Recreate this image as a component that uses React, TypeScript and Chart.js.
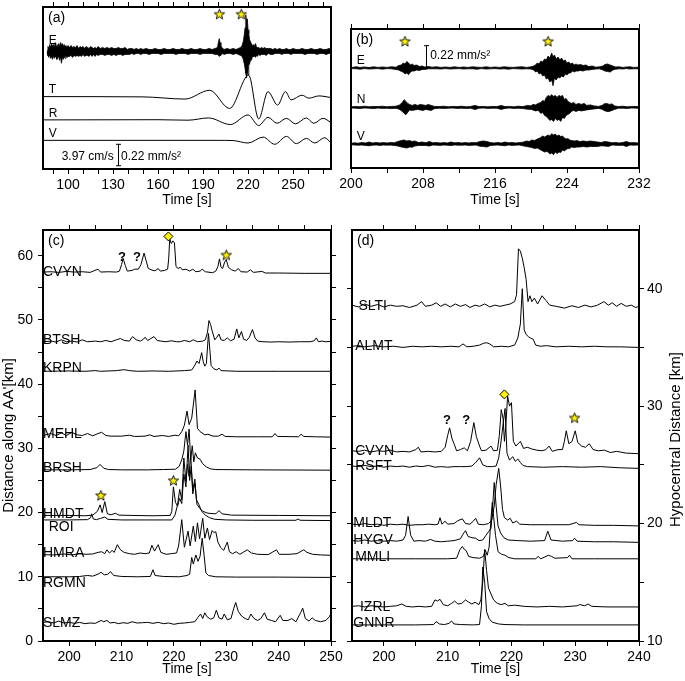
import React, { useEffect, useRef } from "react";
import { Chart, registerables } from "chart.js";

Chart.register(...registerables);

const FONT = "'Liberation Sans', Arial, Helvetica, sans-serif";

type Pt = [number, number];
type Env = [number, number, number];

// ---------------- panel (a) ----------------
const A_X_RANGE: Pt = [83.3, 275.3];
const A_Y_RANGE: Pt = [0, 164];
const A_TICKS = [90, 100, 110, 120, 130, 140, 150, 160, 170, 180, 190, 200, 210, 220, 230, 240, 250, 260, 270];
const A_TICK_LABELS = [100, 130, 160, 190, 220, 250];
const A_E_BASE = 119;
// [time, upper amplitude, lower amplitude]
const A_E_ENV: Env[] = [
  [86, 1, 1], [86.6, 5, 4], [87.2, 3, 6], [87.8, 7, 3], [88.4, 4, 7], [89, 8, 5], [89.6, 5, 8], [90.2, 7, 4],
  [90.8, 4, 7], [91.4, 9, 5], [92, 5, 6], [92.6, 7, 8], [93.2, 4, 5], [93.8, 8, 6], [94.4, 5, 9], [95, 9, 5],
  [95.6, 6, 12], [96.2, 8, 6], [96.8, 5, 8], [97.4, 7, 5], [98, 5, 7], [98.6, 6, 4], [99.2, 4, 6], [100, 6, 5],
  [101, 4, 5], [102, 6, 4], [103, 4, 6], [104, 5, 4], [105, 4, 5], [106, 6, 4], [107, 3, 5], [108, 5, 4],
  [109, 4, 5], [110, 5, 3], [111, 3, 5], [112, 5, 4], [113, 4, 4], [114, 3, 5], [115, 5, 3], [116, 4, 5],
  [117, 3, 3], [118, 4, 5], [119, 3, 3], [120, 5, 4], [121.5, 3, 3], [123, 4, 3], [124.5, 3, 4], [126, 4, 3],
  [127.5, 3, 3], [129, 4, 4], [130.5, 3, 3], [132, 3, 4], [133.5, 4, 3], [135, 3, 3], [136.5, 3, 4], [138, 4, 3],
  [139.5, 2, 3], [141, 3, 3], [142.5, 3, 2], [144, 2, 3], [145.5, 3, 2], [147, 2, 2], [148.5, 3, 3], [150, 2, 2],
  [152, 3, 2], [154, 2, 3], [156, 2, 2], [158, 3, 2], [160, 2, 2], [162, 2, 3], [164, 3, 2], [166, 2, 2],
  [168, 2, 2], [170, 3, 2], [172, 2, 3], [174, 2, 2], [176, 3, 2], [178, 2, 2], [180, 2, 3], [182, 3, 2],
  [184, 2, 2], [186, 2, 2], [188, 3, 3], [190, 2, 2], [192, 2, 2], [194, 3, 2], [196, 2, 2], [198, 3, 3],
  [199.6, 4, 3], [200.2, 9, 4], [200.8, 13, 5], [201.3, 9, 4], [201.9, 6, 4], [202.5, 4, 3], [203.2, 3, 2],
  [204, 2, 3], [206, 3, 2], [208, 2, 2], [210, 3, 3], [212, 2, 2], [213.5, 3, 3], [215, 4, 4], [216, 6, 5],
  [216.8, 10, 8], [217.4, 16, 12], [218, 24, 17], [218.5, 37, 22], [219, 30, 27], [219.5, 33, 20], [220, 22, 24],
  [220.5, 18, 14], [221, 12, 13], [221.6, 10, 9], [222.2, 8, 9], [222.8, 6, 6], [223.4, 7, 5], [224, 5, 5],
  [224.6, 5, 4], [225, 8, 6], [225.5, 5, 4], [226.2, 4, 5], [227, 4, 3], [228, 3, 4], [229, 4, 3], [230, 3, 3],
  [231, 4, 3], [232, 3, 4], [233.5, 3, 2], [235, 3, 3], [236.5, 2, 3], [238, 3, 2], [239.5, 2, 2], [241, 3, 2],
  [242.5, 2, 3], [244, 2, 2], [245.5, 3, 2], [247, 2, 2], [248.5, 2, 3], [250, 3, 2], [252, 2, 2], [254, 2, 2],
  [256, 3, 2], [258, 2, 3], [260, 2, 2], [262, 3, 2], [264, 2, 2], [266, 2, 3], [268, 3, 2], [270, 2, 2],
  [272, 2, 3], [274, 3, 2], [275.3, 2, 2],
];
const A_T: Pt[] = [
  [83.3, 73.3], [150, 73.0], [178, 70.8], [194.4, 79.7], [207.7, 61.3], [220.4, 95], [227.1, 50.7],
  [233.3, 78.3], [239.7, 64.7], [244.9, 78.3], [248.7, 70], [256, 74.7], [260.5, 71.7], [267.3, 74], [275.3, 72.3],
];
const A_R: Pt[] = [
  [83.3, 49.7], [160, 49.9], [180, 49.4], [193.7, 51.7], [208.2, 45], [220, 54.7], [227.1, 44], [233.3, 52.3],
  [239.3, 46.3], [245.6, 51.3], [251.6, 45.7], [258.9, 51.7], [263.8, 46.3], [270, 51.3], [275.3, 47],
];
const A_V: Pt[] = [
  [83.3, 29], [200, 29], [210, 28.8], [220, 26.3], [230, 32.3], [237.8, 25], [245.6, 33], [252.2, 25.7],
  [258.9, 31], [264.4, 26.3], [271.1, 31.7], [275.3, 26.3],
];
const A_STARS: Pt[] = [[200.9, 156.7], [215.5, 156.7]];
const A_NAMES = ["E", "T", "R", "V"];
const A_NAME_Y = [130.7, 81.7, 56.7, 36.3];
const A_NAME_X = 87.1;
const A_BAR_T = 133.1;
const A_BAR_Y: Pt = [3.3, 25];
const A_BAR_TEXT = ["3.97 cm/s", "0.22 mm/s²"];

// ---------------- panel (b) ----------------
const B_X_RANGE: Pt = [200, 232];
const B_Y_RANGE: Pt = [0, 139];
const B_TICKS = [200, 204, 208, 212, 216, 220, 224, 228, 232];
const B_TICK_LABELS = [200, 208, 216, 224, 232];
const B_BASES = [100, 60.6, 24];
const B_E_ENV: Env[] = [
  [200.1, 0.6, 0.6], [200.6, 1.2, 0.8], [201.0, 0.6, 1.2], [201.5, 1.0, 0.6], [202.0, 0.5, 1.0], [202.5, 1.2, 0.8],
  [203.0, 0.6, 0.6], [203.5, 1.0, 1.2], [204.0, 0.6, 0.6], [204.5, 1.2, 0.8], [205.0, 0.8, 1.5], [205.3, 2.5, 2],
  [205.6, 3, 3.5], [205.8, 5, 4], [206.0, 4, 6], [206.2, 6.6, 5], [206.4, 5, 6.7], [206.6, 3, 4], [206.8, 4, 3],
  [207.0, 2.5, 3], [207.3, 3, 2], [207.6, 1.5, 2.5], [207.9, 2, 1.5], [208.2, 1, 1.5], [208.6, 1.5, 0.8], [209.0, 0.8, 0.8],
  [209.5, 1.2, 0.8], [210.0, 0.6, 1.0], [210.5, 1.0, 0.6], [211.0, 0.6, 1.0], [211.5, 1.2, 0.8], [212.0, 0.6, 0.6],
  [212.5, 1.0, 1.0], [213.0, 0.6, 0.8], [213.5, 1.2, 0.8], [214.0, 0.8, 1.2], [214.5, 0.6, 0.6], [215.0, 1.2, 1.0],
  [215.5, 0.6, 0.8], [216.0, 1.0, 0.6], [216.5, 0.6, 1.0], [217.0, 1.2, 0.8], [217.5, 0.8, 1.2], [218.0, 0.6, 0.6],
  [218.5, 1.0, 0.8], [219.0, 1.2, 1.0], [219.5, 0.6, 0.8], [220.0, 1.2, 1.0], [220.3, 2, 2], [220.5, 3, 4],
  [220.7, 5, 3], [220.9, 4, 6], [221.1, 7, 5], [221.3, 6, 8], [221.5, 9, 7], [221.7, 8, 11], [221.9, 12, 10],
  [222.1, 10, 14], [222.3, 15, 12], [222.45, 11, 17.7], [222.6, 13, 10], [222.8, 9, 12], [223.0, 11, 9],
  [223.2, 8, 10], [223.4, 10, 8], [223.6, 7, 9], [223.8, 8, 6], [224.0, 5, 7], [224.2, 6, 5], [224.4, 4, 5],
  [224.6, 5, 3], [224.8, 3, 4], [225.0, 4, 3], [225.2, 3, 3], [225.5, 3.5, 2.5], [225.8, 2.5, 3], [226.1, 3, 2],
  [226.4, 1.5, 2], [226.8, 2, 1.5], [227.2, 0.8, 1.0], [227.6, 1.2, 0.8], [228.0, 2, 2], [228.2, 3.5, 3],
  [228.5, 4, 3.5], [228.8, 3, 4], [229.1, 2, 2], [229.4, 1.0, 1.2], [229.8, 1.2, 0.8], [230.2, 0.6, 1.0],
  [230.6, 1.0, 0.6], [231.0, 1.2, 1.0], [231.4, 0.6, 0.8], [231.9, 0.8, 0.8],
];
const B_N_ENV: Env[] = [
  [200.1, 0.6, 0.6], [200.5, 1.0, 0.8], [201.0, 0.6, 1.0], [201.5, 1.2, 0.6], [202.0, 0.6, 0.8], [202.5, 1.0, 1.2],
  [203.0, 0.8, 0.6], [203.5, 1.2, 1.0], [204.0, 0.6, 0.8], [204.5, 1.0, 1.2], [205.0, 1.2, 0.8], [205.4, 2.5, 2],
  [205.7, 5, 4], [205.9, 7.7, 6], [206.1, 6, 7.3], [206.3, 4, 5], [206.5, 3, 2.5], [206.8, 2, 3], [207.1, 3, 2.5],
  [207.4, 2, 2], [207.7, 3, 2.5], [208.0, 2.5, 3], [208.3, 2, 2], [208.6, 3, 2.5], [208.9, 2, 3], [209.3, 1.0, 1.2],
  [209.8, 0.8, 0.8], [210.3, 1.2, 1.0], [210.8, 0.6, 0.8], [211.3, 1.0, 0.6], [211.8, 0.8, 1.0], [212.3, 1.2, 0.8],
  [212.8, 0.6, 1.0], [213.3, 1.0, 0.8], [213.8, 2, 2.2], [214.2, 0.8, 0.8], [214.7, 1.0, 0.6], [215.2, 0.6, 1.0],
  [215.7, 1.0, 0.8], [216.2, 0.8, 0.8], [216.7, 2, 2], [217.1, 0.8, 1.0], [217.6, 1.0, 0.6], [218.1, 0.6, 1.0],
  [218.6, 1.2, 0.8], [219.1, 0.8, 1.2], [219.6, 2, 1.8], [220.0, 1.5, 2], [220.2, 3, 2.5], [220.5, 2.5, 3.5],
  [220.8, 4, 3], [221.1, 5, 6], [221.3, 7, 5], [221.5, 6, 8], [221.7, 10, 9], [221.9, 12, 11], [222.1, 11, 13],
  [222.3, 12.7, 12], [222.5, 11, 14], [222.7, 12, 11], [222.9, 10, 13], [223.1, 12, 12], [223.3, 11, 14],
  [223.5, 12, 10], [223.7, 8, 11], [223.9, 9, 8], [224.1, 6, 7], [224.3, 5, 6], [224.5, 4, 4], [224.7, 5, 3],
  [225.0, 3, 4], [225.3, 4, 3], [225.6, 3, 3.5], [225.9, 4, 3], [226.2, 2, 2.5], [226.6, 2.5, 2], [227.0, 1.5, 1.5],
  [227.5, 1.0, 1.0], [227.9, 2, 1.8], [228.1, 3.5, 3], [228.4, 4, 4], [228.7, 3, 4], [229.0, 3.5, 3],
  [229.3, 1.5, 2], [229.7, 0.8, 0.8], [230.2, 1.2, 0.8], [230.7, 0.6, 1.0], [231.2, 1.0, 0.6], [231.9, 0.8, 0.8],
];
const B_V_ENV: Env[] = [
  [200.1, 0.8, 0.8], [200.4, 1.2, 1.0], [200.8, 0.8, 1.2], [201.2, 1.5, 1.0], [201.6, 1.0, 1.4], [202.0, 2, 1.8],
  [202.4, 1.0, 1.2], [202.8, 1.5, 1.0], [203.2, 1.0, 1.4], [203.6, 1.4, 1.0], [204.0, 1.0, 1.2], [204.4, 1.5, 1.1],
  [204.8, 1.2, 1.5], [205.2, 2.5, 2], [205.6, 3.5, 3], [205.9, 4, 3.5], [206.2, 3, 4], [206.5, 3.5, 3],
  [206.8, 2.5, 3.2], [207.1, 3, 2], [207.5, 1.4, 1.5], [207.9, 2, 1.5], [208.3, 1.2, 1.5], [208.7, 2.5, 2],
  [209.1, 1.2, 1.0], [209.5, 1.5, 1.2], [209.9, 1.0, 1.4], [210.3, 1.4, 1.0], [210.7, 1.0, 1.2], [211.1, 2, 1.6],
  [211.5, 1.2, 1.0], [211.9, 1.5, 1.2], [212.3, 1.0, 1.2], [212.7, 1.4, 1.0], [213.1, 1.0, 1.4], [213.5, 1.5, 1.2],
  [213.9, 1.2, 1.0], [214.3, 2.5, 2.2], [214.7, 3, 2.5], [215.1, 2.5, 3], [215.5, 1.4, 1.5], [215.9, 1.0, 1.2],
  [216.3, 1.5, 1.0], [216.7, 1.0, 1.4], [217.1, 2, 1.8], [217.5, 1.2, 1.0], [217.9, 1.5, 1.4], [218.3, 1.0, 1.2],
  [218.7, 1.4, 1.0], [219.1, 1.8, 1.8], [219.5, 3, 2.5], [219.8, 2.5, 3], [220.1, 4, 3.5], [220.4, 3.5, 4.5],
  [220.7, 5, 4], [221.0, 6, 5.5], [221.3, 8, 7], [221.5, 7, 8], [221.7, 8, 7.5], [221.9, 9, 8], [222.1, 8, 10],
  [222.3, 10.3, 9], [222.5, 9, 10.7], [222.7, 10, 8], [222.9, 8, 9.5], [223.1, 9, 8], [223.3, 7.5, 8.5],
  [223.5, 8, 6], [223.7, 6, 7], [223.9, 5, 5.5], [224.1, 5.5, 4.5], [224.3, 4, 4.5], [224.5, 3.5, 3],
  [224.8, 3, 3.5], [225.1, 3.5, 3], [225.4, 2.5, 3], [225.8, 3, 2.5], [226.2, 2.5, 3], [226.6, 3, 2.5],
  [227.0, 2.5, 2.5], [227.4, 2, 2.5], [227.8, 1.5, 1.8], [228.2, 2.5, 2], [228.6, 2, 2.5], [229.0, 1.2, 1.0],
  [229.4, 1.5, 1.2], [229.8, 1.0, 1.4], [230.2, 1.5, 1.2], [230.6, 2.5, 2.5], [231.0, 1.2, 1.0], [231.4, 1.4, 1.2],
  [231.9, 1.0, 1.0],
];
const B_STARS: Pt[] = [[206.0, 126.6], [221.9, 126.6]];
const B_NAMES = ["E", "N", "V"];
const B_NAME_Y = [108.3, 69, 32.3];
const B_NAME_X = 200.63;
const B_BAR_T = 208.3;
const B_BAR_Y: Pt = [100, 122.3];
const B_BAR_TEXT = "0.22 mm/s²";
const B_BAR_TEXT_POS: Pt = [208.8, 113.3];

// ---------------- panel (c) ----------------
const C_X_RANGE: Pt = [195, 250];
const C_Y_RANGE: Pt = [0, 64];
const C_X_TICKS = [200, 205, 210, 215, 220, 225, 230, 235, 240, 245, 250];
const C_X_LABELS = [200, 210, 220, 230, 240, 250];
const C_Y_TICKS = [0, 5, 10, 15, 20, 25, 30, 35, 40, 45, 50, 55, 60];
const C_Y_LABELS = [0, 10, 20, 30, 40, 50, 60];
const C_STATIONS = ["CVYN", "BTSH", "KRPN", "MEHL", "BRSH", "HMDT", "ROI", "HMRA", "RGMN", "SLMZ"];
const C_LABEL_T = [195, 195, 195, 195, 195, 195, 196.1, 195, 195, 195];
const C_LABEL_Y = [57.55, 47.0, 42.65, 32.35, 27.15, 19.9, 17.9, 13.9, 9.25, 3.0];
const C_CVYN: Pt[] = [
  [195, 57.45], [196.5, 57.5], [198, 57.4], [199.5, 57.55], [201, 57.45], [202.5, 57.5], [204, 57.4], [205.5, 57.9],
  [206, 57.45], [207.5, 57.5], [209, 57.45], [209.6, 57.6], [210, 58.6], [210.3, 59.6], [210.7, 58.5], [211.1, 57.6],
  [212, 57.7], [212.5, 57.9], [213.2, 57.9], [213.7, 58.6], [214.3, 60.4], [214.7, 59.2], [215.1, 58.0], [216, 57.7],
  [216.4, 57.65], [217, 58.0], [217.4, 57.6], [218.2, 57.7], [218.8, 57.9], [219.0, 59.5], [219.2, 62.6],
  [219.5, 61.9], [219.8, 62.3], [220.1, 62.0], [220.4, 58.3], [220.8, 58.0], [221.2, 58.2], [221.6, 57.8],
  [222.3, 57.9], [223.0, 57.6], [223.6, 57.9], [224.2, 57.5], [225.0, 57.6], [225.4, 57.9], [226.0, 57.5],
  [227.4, 57.35], [228.0, 57.6], [228.4, 58.3], [228.7, 59.5], [229.0, 58.2], [229.3, 58.0], [229.7, 59.0],
  [230.0, 59.4], [230.4, 58.2], [231.0, 57.8], [231.7, 57.6], [232.3, 58.0], [232.8, 57.5], [234.0, 57.45],
  [234.6, 57.8], [235.2, 57.4], [236.8, 57.55], [237.5, 57.3], [240, 57.3], [245, 57.25], [250, 57.25],
];
const C_BTSH: Pt[] = [
  [195, 46.6], [196.5, 46.7], [197.5, 46.55], [198.5, 46.9], [199.5, 46.6], [200.5, 46.7], [201.5, 46.55],
  [202.5, 46.9], [203.5, 46.6], [205, 46.7], [206, 46.6], [207, 46.8], [208, 46.6], [209, 46.9], [209.8, 47.1],
  [210.5, 46.8], [211.5, 46.7], [212.1, 47.4], [212.8, 46.9], [213.6, 46.7], [214.2, 47.0], [214.5, 47.3],
  [215.0, 46.8], [215.6, 47.1], [216.2, 47.4], [216.8, 46.8], [217.5, 46.7], [218.5, 46.6], [219.5, 46.75],
  [220.5, 46.6], [221.2, 46.6], [222.0, 46.8], [223.0, 46.6], [223.7, 46.9], [224.5, 46.6], [225.5, 46.7],
  [226.0, 46.9], [226.4, 48.0], [226.7, 49.9], [227.0, 49.3], [227.3, 48.3], [227.8, 46.9], [228.2, 47.3],
  [228.6, 47.8], [229.0, 46.9], [229.6, 46.8], [230.2, 47.2], [230.8, 46.75], [231.5, 47.0], [232.0, 48.6],
  [232.4, 47.2], [232.9, 48.2], [233.3, 47.0], [233.9, 46.8], [234.4, 47.3], [235.0, 48.5], [235.5, 47.2],
  [236.0, 46.7], [237, 46.6], [238.5, 46.55], [240, 46.6], [242, 46.55], [244, 46.6], [246, 46.6], [246.8, 46.75],
  [247.2, 47.2], [247.6, 46.6], [248.3, 46.7], [249, 46.6], [250, 46.65],
];
const C_KRPN: Pt[] = [
  [195, 42.0], [200, 42.05], [203, 42.0], [205, 42.1], [206, 42.0], [209, 42.1], [210.5, 42.25], [211.5, 42.1],
  [213, 42.0], [216, 42.05], [219, 42.0], [222, 42.1], [223.4, 42.2], [223.9, 42.8], [224.4, 43.6], [224.8, 43.2],
  [225.3, 44.9], [225.6, 43.5], [225.9, 42.8], [226.2, 43.2], [226.6, 47.9], [226.9, 45.0], [227.1, 42.9],
  [227.6, 42.4], [228.2, 42.2], [228.6, 42.5], [229, 42.1], [232, 42.0], [240, 42.0], [250, 42.0],
];
const C_MEHL: Pt[] = [
  [195, 32.0], [196.5, 32.3], [197.5, 32.0], [198.5, 32.4], [199.5, 32.0], [200.5, 32.5], [201.5, 32.1],
  [202.5, 32.0], [203.5, 32.3], [204.5, 31.95], [205.5, 32.3], [206.2, 32.5], [207, 32.0], [208, 31.9],
  [210, 31.9], [211.5, 32.05], [212.5, 31.85], [214.5, 31.9], [215.4, 32.1], [216.2, 31.85], [217.8, 32.0],
  [219, 31.85], [220.2, 32.05], [220.9, 31.95], [221.5, 32.6], [222.0, 33.6], [222.5, 35.8], [222.9, 33.7],
  [223.4, 34.7], [224.05, 39.1], [224.5, 33.1], [225.0, 32.6], [225.9, 32.1], [226.5, 32.2], [227.5, 31.9],
  [228.5, 31.9], [229.2, 32.2], [229.8, 31.85], [232, 31.8], [236, 31.8], [238.8, 31.8], [239.3, 32.3],
  [239.8, 31.85], [243.8, 31.8], [244.3, 32.2], [244.8, 31.85], [247, 31.8], [250, 31.75],
];
const C_BRSH: Pt[] = [
  [195, 26.65], [200, 26.65], [204, 26.7], [205.3, 27.0], [205.9, 27.5], [206.6, 26.9], [207.5, 26.7], [210, 26.65],
  [215, 26.65], [218, 26.7], [220.3, 26.75], [221.0, 27.2], [221.5, 28.2], [221.9, 29.6], [222.3, 32.6],
  [222.6, 30.5], [222.9, 33.0], [223.2, 28.2], [223.5, 30.4], [223.8, 27.9], [224.1, 29.3], [224.5, 28.5],
  [225.0, 28.3], [225.5, 27.6], [226.2, 27.1], [227.0, 26.8], [228, 26.7], [235, 26.65], [250, 26.6],
];
const C_HMDT: Pt[] = [
  [195, 19.55], [200, 19.55], [203, 19.5], [204.5, 19.6], [205.4, 20.2], [205.9, 21.2], [206.3, 20.0],
  [206.8, 21.7], [207.3, 19.8], [208, 19.65], [208.8, 19.9], [209.5, 19.6], [212, 19.55], [216, 19.5],
  [219.3, 19.55], [219.6, 20.2], [219.9, 24.0], [220.3, 21.6], [220.7, 21.0], [221.1, 22.2], [221.5, 21.4],
  [221.9, 26.0], [222.3, 24.0], [222.7, 30.5], [223.0, 25.0], [223.3, 27.2], [223.6, 22.9], [224.0, 24.6],
  [224.4, 21.3], [224.9, 20.7], [225.5, 20.2], [226.5, 19.9], [228, 19.8], [228.6, 20.3], [229.2, 19.8],
  [231, 19.6], [240, 19.55], [250, 19.5],
];
const C_ROI: Pt[] = [
  [195, 18.85], [200, 18.85], [203.5, 18.9], [204.1, 19.2], [204.3, 19.8], [204.6, 19.0], [205.2, 18.9],
  [206.0, 19.1], [206.8, 19.3], [207.4, 18.95], [210, 18.85], [215, 18.85], [219.6, 18.85], [220.2, 19.6],
  [220.7, 21.2], [221.1, 23.6], [221.5, 22.0], [221.9, 28.5], [222.3, 24.8], [222.6, 27.5], [222.9, 25.6],
  [223.2, 29.0], [223.6, 23.5], [224.0, 25.2], [224.3, 22.0], [224.8, 21.2], [225.3, 20.2], [226.0, 19.6],
  [226.8, 19.2], [227.8, 18.95], [230, 18.85], [235, 18.8], [243.3, 18.8], [243.7, 19.0], [244.1, 18.8],
  [250, 18.75],
];
const C_HMRA: Pt[] = [
  [195, 13.45], [197, 13.4], [199, 13.55], [200.5, 13.4], [202, 13.6], [203.2, 13.5], [204.5, 13.55],
  [205.5, 13.8], [206.2, 13.9], [206.8, 13.6], [207.2, 14.2], [207.7, 13.7], [208.2, 14.1], [208.6, 13.8],
  [209.2, 15.0], [209.8, 14.2], [210.5, 13.8], [211.5, 13.6], [212.5, 13.5], [213.5, 13.7], [214.5, 13.6],
  [215.3, 13.7], [215.8, 14.9], [216.3, 14.0], [217.0, 15.0], [217.5, 13.8], [218.5, 13.5], [219.5, 13.6],
  [220.5, 13.7], [220.9, 14.8], [221.5, 18.9], [222.0, 14.6], [222.7, 17.1], [223.1, 14.8], [223.7, 17.9],
  [224.1, 15.5], [224.5, 18.4], [224.9, 15.9], [225.5, 19.1], [225.9, 16.0], [226.4, 17.6], [226.8, 15.8],
  [227.3, 17.2], [227.6, 16.9], [228.0, 17.0], [228.4, 15.4], [228.9, 14.6], [229.5, 14.1], [230.2, 15.4],
  [230.6, 13.9], [231.2, 13.6], [231.9, 13.9], [232.6, 13.5], [234.0, 14.2], [234.8, 13.7], [236, 13.5],
  [238, 13.45], [239.6, 14.2], [240.1, 13.5], [242, 13.5], [243.5, 13.6], [244.8, 14.2], [245.4, 13.8],
  [246.5, 13.5], [248, 13.4], [250, 13.35],
];
const C_RGMN: Pt[] = [
  [195, 10.0], [200, 10.0], [202, 10.05], [203.5, 10.2], [204.5, 10.1], [205.5, 10.4], [206.1, 10.7],
  [206.7, 10.3], [207.4, 10.4], [207.9, 10.8], [208.5, 10.2], [210, 10.05], [213, 10.0], [215.5, 10.05],
  [216.0, 11.1], [216.4, 10.2], [218, 10.05], [221, 10.0], [222.5, 10.2], [223.0, 10.4], [223.4, 13.0],
  [223.7, 12.0], [224.2, 13.4], [224.6, 12.4], [225.0, 13.2], [225.4, 16.0], [225.8, 13.1], [226.1, 10.6],
  [226.6, 10.2], [228, 10.0], [232, 9.95], [240, 9.95], [250, 9.9],
];
const C_SLMZ: Pt[] = [
  [195, 2.9], [196, 3.0], [197, 2.8], [198, 3.1], [199, 2.8], [200, 2.9], [201, 2.75], [202, 2.9], [203, 2.7],
  [204, 2.8], [205, 2.75], [206.1, 3.2], [206.6, 3.0], [207.2, 3.2], [207.8, 2.8], [208.6, 2.9], [209.4, 2.7],
  [210.3, 2.85], [211.2, 2.75], [212, 3.0], [213, 2.8], [214, 2.85], [215, 2.9], [216, 2.75], [217, 2.9],
  [218, 2.7], [219, 2.8], [220, 2.6], [221, 2.75], [222, 2.8], [223, 2.9], [224, 3.0], [224.6, 3.7], [225.1, 4.2],
  [225.5, 3.5], [225.9, 4.4], [226.3, 3.8], [227.0, 3.4], [227.6, 3.6], [228.1, 4.8], [228.6, 3.6], [229.2, 3.4],
  [229.6, 4.2], [230.2, 3.3], [230.9, 3.5], [231.4, 5.0], [231.8, 6.0], [232.3, 4.6], [232.9, 3.9], [233.6, 3.5],
  [234.2, 3.3], [234.7, 4.2], [235.3, 3.5], [236.0, 3.2], [236.6, 3.5], [237.3, 4.4], [237.8, 3.4], [238.6, 3.2],
  [239.4, 3.0], [240.3, 4.0], [240.8, 3.2], [241.8, 3.2], [242.5, 3.5], [243.3, 3.0], [244.2, 4.4], [244.6, 5.1],
  [245.1, 3.5], [245.8, 3.1], [246.4, 3.6], [247, 3.2], [248, 3.0], [249, 3.2], [249.7, 3.8], [250, 4.3],
];
const C_TRACES = [C_CVYN, C_BTSH, C_KRPN, C_MEHL, C_BRSH, C_HMDT, C_ROI, C_HMRA, C_RGMN, C_SLMZ];
const C_STARS: Pt[] = [[230.0, 60.1], [206.05, 22.65], [219.9, 24.98]];
const C_DIAMONDS: Pt[] = [[218.95, 63.0]];
const C_QMARKS: Pt[] = [[210.1, 59.9], [212.95, 59.9]];

// ---------------- panel (d) ----------------
const D_X_RANGE: Pt = [195, 240];
const D_Y_RANGE: Pt = [10, 45];
const D_X_TICKS = [200, 205, 210, 215, 220, 225, 230, 235, 240];
const D_X_LABELS = [200, 210, 220, 230, 240];
const D_Y_TICKS = [10, 15, 20, 25, 30, 35, 40];
const D_Y_LABELS = [10, 20, 30, 40];
const D_STATIONS = ["SLTI", "ALMT", "CVYN", "RSFT", "MLDT", "HYGV", "MMLI", "IZRL", "GNNR"];
const D_LABEL_T = [196.0, 195.5, 195.5, 195.5, 195.2, 195.2, 195.5, 196.25, 195.2];
const D_LABEL_Y = [38.58, 35.17, 26.3, 25.0, 20.1, 18.7, 17.25, 13.0, 11.65];
const D_SLTI: Pt[] = [
  [195, 38.6], [196, 38.45], [197, 38.7], [198, 38.5], [199, 38.65], [200, 38.45], [201, 38.6], [202, 38.5],
  [203, 38.55], [204, 38.4], [205.2, 38.6], [205.9, 38.9], [206.5, 38.5], [207.5, 38.6], [208.2, 38.8],
  [208.9, 38.5], [209.6, 38.7], [210.4, 38.45], [211.2, 38.7], [212, 38.5], [212.8, 38.65], [213.5, 38.4],
  [214.3, 38.6], [215, 38.5], [215.8, 38.7], [216.6, 38.45], [217.4, 38.6], [218.2, 38.5], [219, 38.6],
  [219.8, 38.7], [220.5, 38.9], [220.8, 39.5], [221.1, 43.4], [221.4, 43.2], [221.7, 42.6], [222.0, 41.8],
  [222.3, 40.8], [222.6, 38.9], [222.9, 39.4], [223.2, 38.9], [223.6, 39.2], [224.1, 38.7], [224.8, 39.4],
  [225.4, 39.0], [226, 38.6], [227, 38.5], [228.3, 38.35], [229.5, 38.55], [230.5, 38.4], [231.5, 38.6],
  [232.5, 38.45], [233.5, 38.6], [234.5, 38.9], [235.2, 38.6], [235.8, 38.8], [236.5, 38.5], [237.2, 38.75],
  [238, 38.5], [238.8, 38.6], [239.5, 38.4], [240, 38.5],
];
const D_ALMT: Pt[] = [
  [195, 35.1], [196, 35.15], [197, 35.05], [198.5, 35.15], [200, 35.05], [201.5, 35.1], [203, 35.0],
  [204.5, 35.1], [206, 35.05], [207.5, 35.1], [209, 35.05], [210.5, 35.1], [211.8, 35.05], [212.4, 35.3],
  [213, 35.05], [214, 35.1], [215.0, 35.2], [215.6, 35.35], [216.1, 35.4], [216.6, 35.3], [217.2, 35.05],
  [218.5, 35.1], [219.5, 35.05], [220.5, 35.2], [221.0, 35.8], [221.4, 37.0], [221.7, 40.0], [222.0, 36.5],
  [222.3, 36.1], [222.7, 35.9], [223.0, 35.8], [223.4, 35.7], [223.8, 35.2], [224.5, 35.1], [225.5, 35.15],
  [227, 35.05], [229, 35.1], [231, 35.05], [233, 35.1], [235, 35.05], [237, 35.05], [240, 35.0],
];
const D_CVYN: Pt[] = [
  [195, 26.2], [196, 26.15], [197, 26.25], [198, 26.1], [199, 26.2], [200, 26.15], [201, 26.25], [202, 26.1],
  [203, 26.15], [204, 26.1], [205, 26.3], [205.4, 26.5], [205.8, 26.1], [207, 26.15], [208, 26.1], [209, 26.15],
  [209.6, 26.5], [210.0, 27.5], [210.3, 28.15], [210.7, 27.2], [211.0, 26.8], [211.4, 26.2], [212.0, 26.3],
  [212.6, 26.45], [213.1, 26.2], [213.6, 27.0], [214.1, 28.6], [214.5, 27.4], [215.0, 26.6], [215.3, 26.2],
  [216.0, 26.25], [216.8, 26.6], [217.2, 26.2], [217.8, 26.25], [218.1, 27.5], [218.4, 29.7], [218.7, 28.9],
  [218.9, 27.0], [219.1, 28.2], [219.4, 30.85], [219.7, 30.0], [220.0, 30.3], [220.3, 27.0], [220.7, 26.6],
  [221.4, 27.0], [221.9, 26.4], [222.5, 26.5], [223.2, 26.35], [224, 26.25], [224.8, 26.2], [225.4, 26.3],
  [225.9, 26.6], [226.4, 26.15], [227.3, 26.3], [228.0, 26.3], [228.3, 27.0], [228.6, 27.9], [229.0, 26.8],
  [229.5, 27.0], [230.0, 27.9], [230.4, 26.9], [231.0, 26.6], [231.6, 26.5], [232.2, 26.8], [232.8, 26.3],
  [233.6, 26.2], [234.6, 26.25], [235.5, 26.05], [236.5, 26.15], [238, 26.0], [240, 25.95],
];
const D_RSFT: Pt[] = [
  [195, 24.9], [196, 24.85], [197, 24.95], [198, 24.85], [199, 24.9], [200, 24.8], [201, 24.9], [202, 24.85],
  [203, 24.9], [204, 24.8], [205, 24.9], [206, 24.85], [207, 24.95], [208, 24.8], [209, 24.85], [210, 24.8],
  [211, 24.85], [212, 24.85], [213, 24.85], [213.8, 24.9], [214.4, 25.2], [215.0, 25.6], [215.5, 25.0],
  [216.2, 24.85], [217, 24.85], [217.6, 24.9], [218.0, 25.6], [218.3, 26.7], [218.7, 28.5], [219.0, 29.8],
  [219.3, 26.0], [219.7, 25.4], [220.2, 25.7], [220.6, 25.3], [221.0, 25.5], [221.4, 25.2], [221.8, 24.95],
  [222.5, 24.85], [225, 24.8], [228, 24.85], [231, 24.8], [234, 24.85], [237, 24.75], [240, 24.7],
];
const D_MLDT: Pt[] = [
  [195, 19.95], [196, 19.9], [197, 20.0], [198, 19.9], [199, 19.95], [200, 19.85], [201, 19.95], [202, 19.9],
  [203, 19.95], [204, 19.85], [205, 19.9], [206, 19.9], [207, 19.95], [208, 19.9], [208.5, 19.95], [208.8, 20.5],
  [209.1, 19.95], [209.6, 20.2], [210.0, 19.95], [211.0, 20.0], [211.6, 20.25], [212.3, 20.4], [212.8, 20.0],
  [213.5, 19.95], [214.0, 20.2], [214.4, 20.45], [214.8, 19.95], [215.6, 19.9], [216.4, 20.0], [216.9, 20.3],
  [217.3, 21.5], [217.6, 23.3], [218.0, 24.7], [218.3, 23.2], [218.6, 21.2], [218.9, 20.5], [219.4, 20.3],
  [219.8, 20.45], [220.2, 20.05], [220.8, 20.2], [221.3, 19.95], [223, 19.9], [226, 19.9], [229, 19.9],
  [230.2, 20.1], [230.6, 19.9], [233, 19.85], [236, 19.85], [240, 19.8],
];
const D_HYGV: Pt[] = [
  [195, 18.55], [196, 18.5], [197, 18.6], [198, 18.5], [199, 18.55], [200, 18.5], [201, 18.55], [202, 18.5],
  [203.0, 18.6], [203.4, 19.0], [203.8, 20.6], [204.2, 19.0], [204.7, 18.5], [205.5, 18.55], [206.5, 18.5],
  [207.3, 18.65], [208.0, 18.5], [209, 18.45], [210, 18.5], [211, 18.55], [212.0, 18.7], [212.4, 19.1],
  [212.8, 19.4], [213.2, 18.9], [213.8, 18.8], [214.4, 18.75], [214.9, 18.55], [215.5, 18.6], [216.0, 19.0],
  [216.4, 19.3], [216.8, 19.6], [217.0, 21.0], [217.3, 23.5], [217.6, 21.5], [217.9, 19.8], [218.3, 19.2],
  [218.8, 18.8], [219.5, 18.6], [221, 18.55], [223, 18.5], [225.2, 18.55], [225.7, 19.35], [226.2, 18.6],
  [228, 18.5], [229.6, 18.55], [229.9, 18.75], [230.3, 18.5], [233, 18.45], [236, 18.45], [240, 18.4],
];
const D_MMLI: Pt[] = [
  [195, 17.0], [200, 17.0], [205, 17.0], [210, 17.0], [211.4, 17.05], [211.9, 17.76], [212.3, 18.05],
  [212.6, 17.8], [212.9, 17.7], [213.3, 17.2], [214.0, 17.1], [215.0, 17.05], [215.6, 17.2], [215.9, 17.76],
  [216.2, 17.3], [216.5, 18.0], [216.8, 20.5], [217.0, 21.8], [217.2, 20.6], [217.5, 19.0], [217.9, 17.6],
  [218.4, 17.4], [219.0, 17.3], [219.6, 17.1], [220.5, 17.0], [223.8, 17.0], [224.2, 17.2], [224.6, 17.0],
  [225.8, 17.3], [226.3, 17.2], [226.8, 17.05], [228.8, 17.1], [229.1, 17.3], [229.5, 17.0], [233, 17.0],
  [240, 17.0],
];
const D_IZRL: Pt[] = [
  [195, 12.95], [196, 13.0], [197, 12.9], [198, 13.0], [199, 12.95], [200, 12.9], [201, 12.95], [202, 13.0],
  [202.8, 13.15], [203.5, 12.95], [204.5, 12.9], [205.5, 12.95], [206.5, 12.9], [207.5, 12.95], [208.0, 13.5],
  [208.4, 13.4], [208.8, 13.55], [209.3, 13.1], [210, 13.0], [210.6, 13.2], [211.1, 13.4], [211.6, 13.15],
  [212.2, 13.2], [212.8, 13.5], [213.3, 13.3], [213.8, 13.15], [214.3, 13.3], [214.9, 13.1], [215.2, 13.5],
  [215.5, 15.0], [215.8, 17.8], [216.1, 16.0], [216.4, 14.5], [216.8, 14.0], [217.2, 13.5], [217.8, 13.2],
  [218.4, 13.1], [219.0, 13.2], [219.5, 13.0], [220.5, 13.05], [222, 12.95], [224, 12.9], [226, 12.95],
  [228, 12.9], [230.3, 13.0], [230.7, 13.1], [231.5, 13.0], [232, 13.15], [232.6, 12.95], [235, 12.9],
  [240, 12.9],
];
const D_GNNR: Pt[] = [
  [195, 11.37], [200, 11.37], [205, 11.37], [207.8, 11.4], [208.2, 11.65], [208.7, 11.45], [209.5, 11.4],
  [210.2, 11.5], [210.6, 11.7], [211.0, 11.45], [212, 11.4], [214, 11.37], [215.0, 11.4], [215.3, 13.0],
  [215.5, 16.3], [215.8, 15.0], [216.1, 12.5], [216.5, 11.9], [217.0, 11.6], [218, 11.45], [219, 11.4],
  [222, 11.37], [240, 11.37],
];
const D_TRACES = [D_SLTI, D_ALMT, D_CVYN, D_RSFT, D_MLDT, D_HYGV, D_MMLI, D_IZRL, D_GNNR];
const D_STARS: Pt[] = [[229.9, 29.0]];
const D_DIAMONDS: Pt[] = [[218.9, 31.0]];
const D_QMARKS: Pt[] = [[209.9, 28.9], [212.9, 28.9]];

// ---------------- helpers ----------------
type Note = { text: string; x: number; y: number; align?: CanvasTextAlign; size?: number; bold?: boolean };

const toXY = (pts: Pt[]) => pts.map(([x, y]) => ({ x, y }));

function lineDs(data: any[], extra: any = {}) {
  return {
    data,
    borderColor: "#000",
    borderWidth: 1,
    pointRadius: 0,
    pointHoverRadius: 0,
    tension: 0,
    fill: false,
    borderJoinStyle: "round",
    ...extra,
  };
}

function bandDs(env: Env[], base: number) {
  const up = env.map(([x, u]) => ({ x, y: base + u }));
  const lo = env.map(([x, , d]) => ({ x, y: base - d }));
  return [
    lineDs(up, { fill: "+1", backgroundColor: "#000", borderWidth: 0.8 }),
    lineDs(lo, { borderWidth: 0.8 }),
  ];
}

function makeStar(): HTMLCanvasElement {
  const c = document.createElement("canvas");
  c.width = 13;
  c.height = 13;
  const g = c.getContext("2d")!;
  g.beginPath();
  for (let i = 0; i < 10; i++) {
    const r = i % 2 ? 2.3 : 5.4;
    const a = -Math.PI / 2 + (i * Math.PI) / 5;
    const px = 6.5 + r * Math.cos(a);
    const py = 6.8 + r * Math.sin(a);
    if (i === 0) g.moveTo(px, py);
    else g.lineTo(px, py);
  }
  g.closePath();
  g.fillStyle = "#fff200";
  g.fill();
  g.lineWidth = 0.9;
  g.strokeStyle = "#000";
  g.stroke();
  return c;
}

function markerDs(pts: Pt[], style: any, radius: number) {
  return {
    data: toXY(pts),
    showLine: false,
    pointStyle: style,
    pointRadius: radius,
    pointHoverRadius: radius,
    pointBackgroundColor: "#fff200",
    pointBorderColor: "#000",
    pointBorderWidth: 1,
  };
}

function axis(o: {
  pos: "left" | "right" | "top" | "bottom";
  range: Pt;
  size: number;
  ticks?: number[];
  labels?: number[];
  title?: string;
  titlePad?: number;
  titleSize?: number;
  labelPad?: number;
}) {
  const horizontal = o.pos === "top" || o.pos === "bottom";
  const tickVals = o.ticks ?? [];
  const labels = o.labels ?? [];
  return {
    type: "linear",
    position: o.pos,
    min: o.range[0],
    max: o.range[1],
    display: true,
    afterBuildTicks: (s: any) => {
      if (tickVals.length) s.ticks = tickVals.map((v) => ({ value: v }));
    },
    afterFit: (s: any) => {
      if (horizontal) s.height = o.size;
      else s.width = o.size;
      s.paddingLeft = 0;
      s.paddingRight = 0;
      s.paddingTop = 0;
      s.paddingBottom = 0;
    },
    ticks: {
      display: labels.length > 0,
      autoSkip: false,
      maxRotation: 0,
      minRotation: 0,
      padding: o.labelPad ?? 3,
      color: "#000",
      font: { family: FONT, size: 14 },
      callback: (v: number) => (labels.includes(v) ? String(v) : ""),
    },
    grid: {
      display: tickVals.length > 0,
      drawOnChartArea: false,
      drawTicks: true,
      tickLength: 5,
      color: "#000",
      lineWidth: 1,
    },
    border: { display: false },
    title: o.title
      ? {
          display: true,
          text: o.title,
          color: "#000",
          font: { family: FONT, size: o.titleSize ?? 14 },
          padding: { top: o.titlePad ?? 0, bottom: o.titlePad ?? 0 },
        }
      : { display: false },
  };
}

function decor(panel: string, notes: Note[], extra?: (chart: any) => void, rightTitle?: string) {
  return {
    id: "decor" + panel,
    beforeDatasetsDraw(chart: any) {
      const { ctx, chartArea: a } = chart;
      const x = chart.scales.x;
      const y = chart.scales.y;
      ctx.save();
      ctx.fillStyle = "#000";
      ctx.textBaseline = "alphabetic";
      for (const n of notes) {
        const size = n.size ?? 14;
        ctx.font = `${n.bold ? "bold " : ""}${size}px ${FONT}`;
        ctx.textAlign = n.align ?? "left";
        // y is the vertical centre of the capitals
        ctx.fillText(n.text, x.getPixelForValue(n.x), y.getPixelForValue(n.y) + size * 0.358);
      }
      ctx.font = `14px ${FONT}`;
      ctx.textAlign = "left";
      ctx.textBaseline = "middle";
      ctx.fillText(panel, a.left + 5, a.top + 11.5);
      if (extra) extra(chart);
      ctx.restore();
    },
    afterDraw(chart: any) {
      const { ctx, chartArea: a } = chart;
      ctx.save();
      ctx.strokeStyle = "#000";
      ctx.lineWidth = 2;
      ctx.strokeRect(a.left, a.top, a.right - a.left, a.bottom - a.top);
      if (rightTitle) {
        ctx.fillStyle = "#000";
        ctx.font = `15px ${FONT}`;
        ctx.textAlign = "center";
        ctx.textBaseline = "middle";
        ctx.translate(chart.width - 9, (a.top + a.bottom) / 2 + 4);
        ctx.rotate(-Math.PI / 2);
        ctx.fillText(rightTitle, 0, 0);
      }
      ctx.restore();
    },
  };
}

function scaleBar(t: number, yr: Pt, bottomCap: boolean) {
  return (chart: any) => {
    const { ctx } = chart;
    const bx = Math.round(chart.scales.x.getPixelForValue(t)) + 0.5;
    const y0 = chart.scales.y.getPixelForValue(yr[0]);
    const y1 = chart.scales.y.getPixelForValue(yr[1]);
    ctx.strokeStyle = "#000";
    ctx.lineWidth = 1;
    ctx.beginPath();
    ctx.moveTo(bx, y0);
    ctx.lineTo(bx, y1);
    ctx.moveTo(bx - 2.5, y1);
    ctx.lineTo(bx + 2.5, y1);
    if (bottomCap) {
      ctx.moveTo(bx - 2.5, y0);
      ctx.lineTo(bx + 2.5, y0);
    }
    ctx.stroke();
  };
}

const baseOptions = {
  responsive: false,
  animation: false,
  devicePixelRatio: 1,
  events: [],
  layout: { padding: 0 },
  plugins: { legend: { display: false }, tooltip: { enabled: false } },
};

// ---------------- configs ----------------
function configA() {
  const star = makeStar();
  const notes: Note[] = A_NAMES.map((n, i) => ({ text: n, x: A_NAME_X, y: A_NAME_Y[i], size: 12 }));
  notes.push({ text: A_BAR_TEXT[0], x: 130.4, y: 13, align: "right", size: 12 });
  notes.push({ text: A_BAR_TEXT[1], x: 135.3, y: 13, align: "left", size: 12 });
  return {
    type: "line",
    data: {
      datasets: [
        markerDs(A_STARS, star, 6),
        ...bandDs(A_E_ENV, A_E_BASE),
        lineDs(toXY(A_T), { cubicInterpolationMode: "monotone" }),
        lineDs(toXY(A_R), { cubicInterpolationMode: "monotone" }),
        lineDs(toXY(A_V), { cubicInterpolationMode: "monotone" }),
      ],
    },
    options: {
      ...baseOptions,
      scales: {
        x: axis({ pos: "bottom", range: A_X_RANGE, size: 46, ticks: A_TICKS, labels: A_TICK_LABELS, title: "Time [s]", titlePad: 6 }),
        x2: axis({ pos: "top", range: A_X_RANGE, size: 5, ticks: A_TICKS }),
        y: axis({ pos: "left", range: A_Y_RANGE, size: 43 }),
        y2: axis({ pos: "right", range: A_Y_RANGE, size: 9 }),
      },
    },
    plugins: [decor("(a)", notes, scaleBar(A_BAR_T, A_BAR_Y, true))],
  };
}

function configB() {
  const star = makeStar();
  const notes: Note[] = B_NAMES.map((n, i) => ({ text: n, x: B_NAME_X, y: B_NAME_Y[i], size: 12 }));
  notes.push({ text: B_BAR_TEXT, x: B_BAR_TEXT_POS[0], y: B_BAR_TEXT_POS[1], size: 12 });
  return {
    type: "line",
    data: {
      datasets: [
        markerDs(B_STARS, star, 6),
        ...bandDs(B_E_ENV, B_BASES[0]),
        ...bandDs(B_N_ENV, B_BASES[1]),
        ...bandDs(B_V_ENV, B_BASES[2]),
      ],
    },
    options: {
      ...baseOptions,
      scales: {
        x: axis({ pos: "bottom", range: B_X_RANGE, size: 47, ticks: B_TICKS, labels: B_TICK_LABELS, title: "Time [s]", titlePad: 6 }),
        x2: axis({ pos: "top", range: B_X_RANGE, size: 29, ticks: B_TICKS }),
        y: axis({ pos: "left", range: B_Y_RANGE, size: 11 }),
        y2: axis({ pos: "right", range: B_Y_RANGE, size: 46 }),
      },
    },
    plugins: [decor("(b)", notes, scaleBar(B_BAR_T, B_BAR_Y, false))],
  };
}

function configC() {
  const star = makeStar();
  const notes: Note[] = C_STATIONS.map((n, i) => ({ text: n, x: C_LABEL_T[i], y: C_LABEL_Y[i] }));
  C_QMARKS.forEach(([x, y]) => notes.push({ text: "?", x, y, align: "center", size: 13, bold: true }));
  return {
    type: "line",
    data: {
      datasets: [
        markerDs(C_STARS, star, 6),
        markerDs(C_DIAMONDS, "rectRot", 4.5),
        ...C_TRACES.map((tr) => lineDs(toXY(tr))),
      ],
    },
    options: {
      ...baseOptions,
      scales: {
        x: axis({ pos: "bottom", range: C_X_RANGE, size: 40, ticks: C_X_TICKS, labels: C_X_LABELS, title: "Time [s]", titlePad: 3 }),
        x2: axis({ pos: "top", range: C_X_RANGE, size: 15, ticks: C_X_TICKS }),
        y: axis({ pos: "left", range: C_Y_RANGE, size: 43, ticks: C_Y_TICKS, labels: C_Y_LABELS, labelPad: 5, title: "Distance along AA'[km]", titlePad: 0, titleSize: 15 }),
        y2: axis({ pos: "right", range: C_Y_RANGE, size: 19, ticks: C_Y_TICKS }),
      },
    },
    plugins: [decor("(c)", notes)],
  };
}

function configD() {
  const star = makeStar();
  const notes: Note[] = D_STATIONS.map((n, i) => ({ text: n, x: D_LABEL_T[i], y: D_LABEL_Y[i] }));
  D_QMARKS.forEach(([x, y]) => notes.push({ text: "?", x, y, align: "center", size: 13, bold: true }));
  return {
    type: "line",
    data: {
      datasets: [
        markerDs(D_STARS, star, 6),
        markerDs(D_DIAMONDS, "rectRot", 4.5),
        ...D_TRACES.map((tr) => lineDs(toXY(tr))),
      ],
    },
    options: {
      ...baseOptions,
      scales: {
        x: axis({ pos: "bottom", range: D_X_RANGE, size: 40, ticks: D_X_TICKS, labels: D_X_LABELS, title: "Time [s]", titlePad: 3 }),
        x2: axis({ pos: "top", range: D_X_RANGE, size: 15, ticks: D_X_TICKS }),
        y: axis({ pos: "left", range: D_Y_RANGE, size: 12, ticks: D_Y_TICKS }),
        y2: axis({ pos: "right", range: D_Y_RANGE, size: 46, ticks: D_Y_TICKS, labels: D_Y_LABELS, labelPad: 3 }),
      },
    },
    plugins: [decor("(d)", notes, undefined, "Hypocentral Distance [km]")],
  };
}

function Panel(props: { left: number; top: number; width: number; height: number; make: () => any }) {
  const ref = useRef<HTMLCanvasElement>(null);
  useEffect(() => {
    const chart = new Chart(ref.current as HTMLCanvasElement, props.make());
    return () => chart.destroy();
  }, []);
  return (
    <canvas
      ref={ref}
      width={props.width}
      height={props.height}
      style={{ position: "absolute", left: props.left, top: props.top, width: props.width, height: props.height }}
    />
  );
}

export default function App() {
  return (
    <div style={{ position: "fixed", left: 0, top: 0, width: 685, height: 681, background: "#fff", overflow: "hidden" }}>
      <Panel left={0} top={0} width={340} height={215} make={configA} />
      <Panel left={340} top={0} width={345} height={215} make={configB} />
      <Panel left={340} top={215} width={345} height={466} make={configD} />
      <Panel left={0} top={215} width={350} height={466} make={configC} />
    </div>
  );
}
